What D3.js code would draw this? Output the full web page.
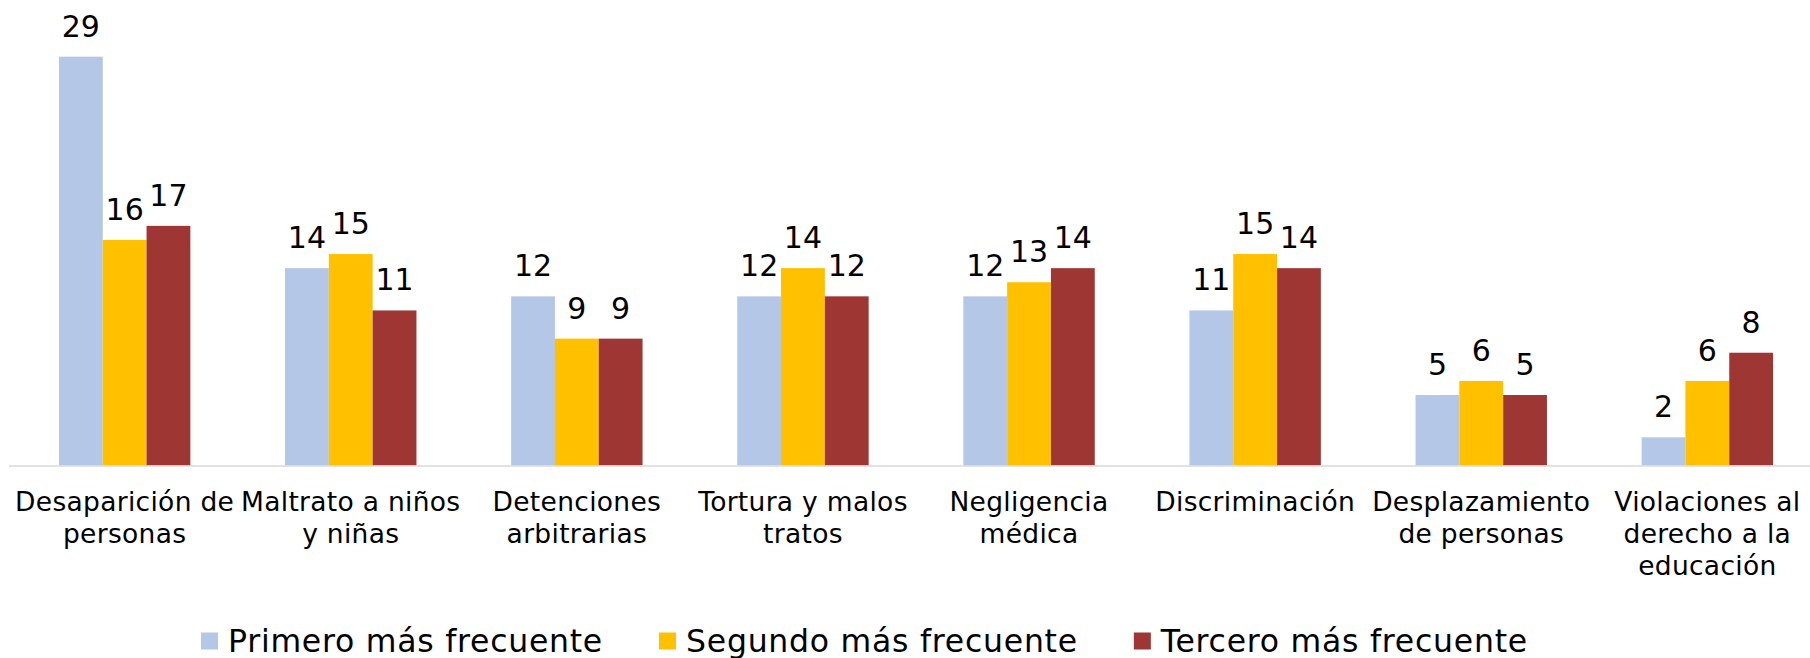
<!DOCTYPE html>
<html>
<head>
<meta charset="utf-8">
<script src="https://cdn.jsdelivr.net/npm/d3@7"></script>
<style>
  html, body { margin: 0; padding: 0; background: #fff; }
  svg { display: block; font-family: "DejaVu Sans", sans-serif; }
</style>
</head>
<body>
<svg id="chart" width="1810" height="658"></svg>
<script>
const categories = [
  "Desaparición de personas",
  "Maltrato a niños y niñas",
  "Detenciones arbitrarias",
  "Tortura y malos tratos",
  "Negligencia médica",
  "Discriminación",
  "Desplazamiento de personas",
  "Violaciones al derecho a la educación"
];
const seriesNames = ["Primero más frecuente", "Segundo más frecuente", "Tercero más frecuente"];
const primero = [29, 14, 12, 12, 12, 11, 5, 2];
const segundo = [16, 15, 9, 14, 13, 15, 6, 6];
const tercero = [17, 11, 9, 12, 14, 14, 5, 8];
const colors = ["#B4C7E7", "#FFC000", "#9E3734"];

const seriesValues = [primero, segundo, tercero];
const svg = d3.select("#chart");

const baseY = 465.5;
const x0 = d3.scaleBand().domain(categories).range([11.6, 1820.4]).padding(0);
const groupW = 131.4;
const x1 = d3.scaleBand().domain(seriesNames)
  .range([(x0.bandwidth() - groupW) / 2, (x0.bandwidth() + groupW) / 2]).padding(0);
const y = d3.scaleLinear().domain([0, 29]).range([baseY, 56.7]);

const groups = svg.append("g").selectAll("g")
  .data(categories).join("g")
  .attr("transform", d => `translate(${x0(d)},0)`);

groups.each(function(cat, ci) {
  const g = d3.select(this);
  seriesNames.forEach((s, si) => {
    const v = seriesValues[si][ci];
    g.append("rect")
      .attr("x", x1(s))
      .attr("y", y(v))
      .attr("width", x1.bandwidth())
      .attr("height", y(0) - y(v))
      .attr("fill", colors[si]);
    g.append("text")
      .attr("x", x1(s) + x1.bandwidth() / 2)
      .attr("y", y(v) - 20)
      .attr("text-anchor", "middle")
      .attr("font-size", 30)
      .attr("fill", "#000")
      .text(v);
  });
});

// axis line
svg.append("line")
  .attr("x1", 9).attr("x2", 1810)
  .attr("y1", baseY + 0.5).attr("y2", baseY + 0.5)
  .attr("stroke", "#D9D9D9").attr("stroke-width", 1.5);

// category labels with wrapping
const maxW = 230;
const labelG = svg.append("g");
categories.forEach(cat => {
  const cx = x0(cat) + x0.bandwidth() / 2;
  const t = labelG.append("text")
    .attr("x", cx)
    .attr("y", 510.7)
    .attr("text-anchor", "middle")
    .attr("font-size", 26.5)
    .attr("letter-spacing", 0.3)
    .attr("fill", "#000");
  const words = cat.split(" ");
  let line = [];
  let tspan = t.append("tspan").attr("x", cx).attr("dy", 0);
  words.forEach(w => {
    line.push(w);
    tspan.text(line.join(" "));
    if (tspan.node().getComputedTextLength() > maxW && line.length > 1) {
      line.pop();
      tspan.text(line.join(" "));
      line = [w];
      tspan = t.append("tspan").attr("x", cx).attr("dy", 32).text(w);
    }
  });
});

// legend
const legend = svg.append("g");
let lx = 201;
seriesNames.forEach((s, i) => {
  legend.append("rect")
    .attr("x", lx).attr("y", 632.5)
    .attr("width", 17).attr("height", 17)
    .attr("fill", colors[i]);
  const t = legend.append("text")
    .attr("x", lx + 27).attr("y", 651.5)
    .attr("font-size", 31.5)
    .attr("letter-spacing", 0.75)
    .attr("fill", "#000")
    .text(s);
  lx = lx + 27 + t.node().getComputedTextLength() + 56;
});
</script>
</body>
</html>
